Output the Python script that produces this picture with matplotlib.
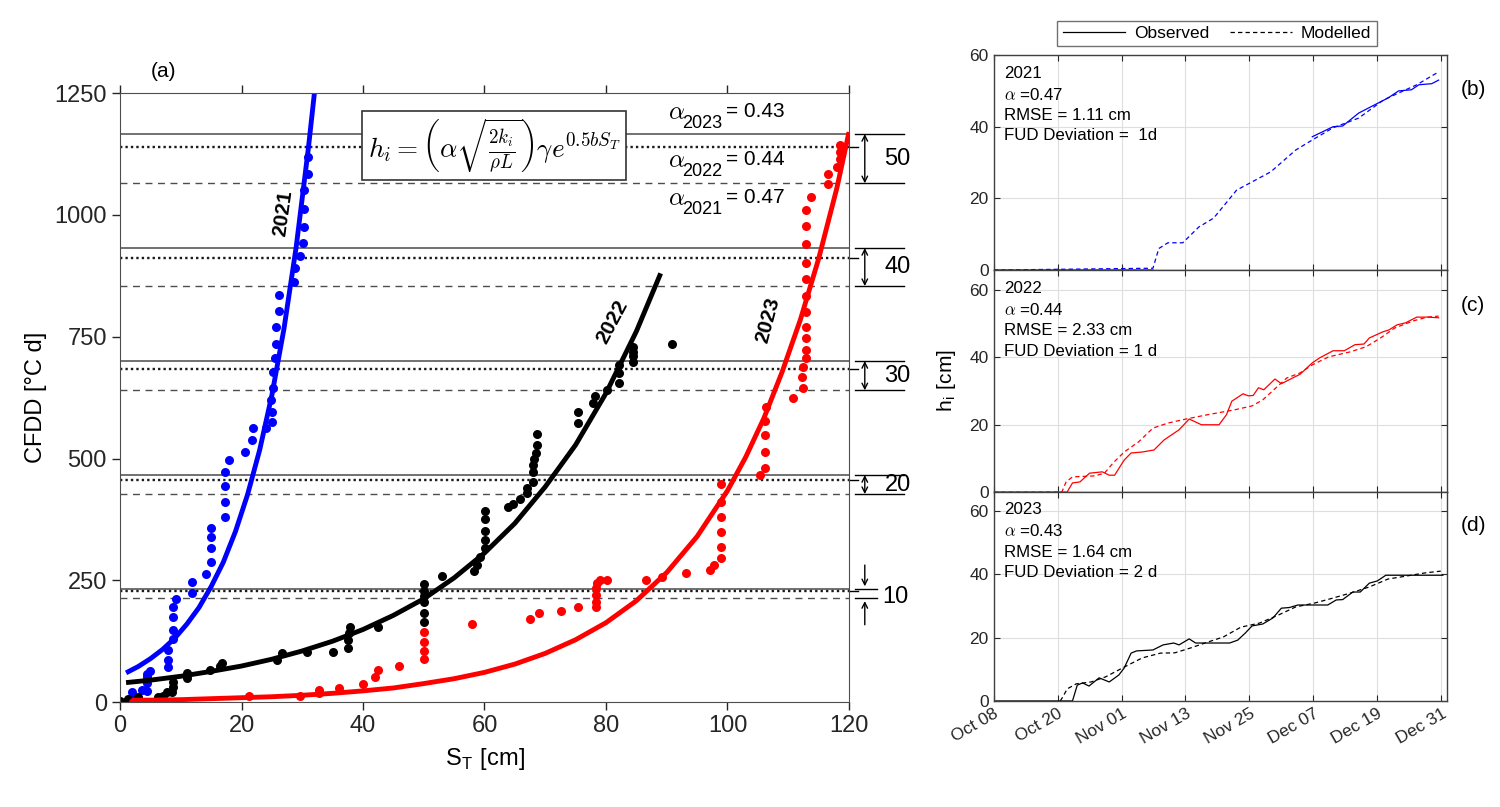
import numpy as np
import matplotlib
matplotlib.use("Agg")
import matplotlib.pyplot as plt

plt.rcParams['font.family'] = ['Liberation Sans', 'DejaVu Sans']
plt.rcParams['mathtext.fontset'] = 'cm'

# -----------------------
# PANEL (a) DATA
# -----------------------

# measured points, S_T [cm] vs CFDD
x_2021 = [1, 2.0, 2.1, 3.6, 4.4, 4.4, 4.4, 4.4, 5.0, 7.9, 7.9, 7.9, 8.8, 8.8, 8.8, 8.8, 9.2, 11.9,
          11.9, 14.2, 14.9, 14.9, 14.9, 14.9, 17.3, 17.3, 17.3, 17.3, 18.0, 20.6, 21.7, 21.9, 24.0,
          25.0, 25.0, 24.9, 25.2, 25.2, 25.5, 25.7, 25.7, 26.2, 26.2, 28.7, 28.8, 29.7, 30.2, 30.3,
          30.3, 30.3, 31.0, 31.0]
y_2021 = [0, 21, 4, 25, 23, 39, 51, 57, 64, 72, 86, 107, 129, 148, 175, 195, 211, 224,
          247, 263, 287, 316, 338, 357, 380, 411, 443, 472, 497, 513, 538, 562, 562,
          575, 596, 620, 644, 677, 706, 735, 770, 803, 835, 862, 891, 915, 942, 975,
          1012, 1051, 1084, 1119]

x_2022 = [0, 1.3, 3.0, 6.3, 7.1, 7.7, 8.5, 8.7, 8.7, 11.0, 11.0, 14.8, 16.8, 16.5, 25.8, 26.6,
          30.8, 35.1, 37.6, 37.6, 37.7, 37.9, 42.5, 50.1, 50.1, 50.1, 50.1, 50.1, 50.1, 53.0,
          58.3, 58.8, 59.3, 60.1, 60.1, 60.1, 60.1, 60.1, 63.8, 64.7, 65.9, 67.0, 67.0, 68.0,
          68.0, 68.0, 68.2, 68.4, 68.7, 68.7, 75.4, 75.4, 77.8, 78.2, 80.2, 82.2, 82.2, 82.2,
          84.5, 84.5, 84.5, 84.5, 90.8]
y_2022 = [2, 6, 10, 10, 12, 21, 21, 31, 41, 49, 60, 66, 80, 74, 86, 100,
          103, 103, 111, 127, 141, 154, 154, 242, 228, 218, 205, 183, 164, 259,
          269, 281, 298, 316, 333, 351, 375, 392, 400, 406, 417, 429, 439, 452,
          472, 486, 499, 511, 527, 550, 573, 596, 613, 628, 640, 655, 676, 692,
          698, 710, 719, 729, 735]

x_2023 = [2.2, 21.3, 29.7, 32.7, 32.8, 36.0, 40.0, 42.0, 42.4, 46.0, 50.0, 50.0, 50.0, 50.0,
          58.0, 67.5, 69.0, 72.6, 75.4, 78.4, 78.4, 78.4, 78.4, 78.6, 79.0, 80.2, 86.6, 89.3,
          93.2, 97.2, 97.7, 99.0, 99.0, 99.0, 99.0, 99.0, 99.0, 105.3, 106.1, 106.1, 106.1,
          106.1, 106.4, 110.7, 112.4, 112.2, 112.4, 113.0, 113.0, 113.0, 113.0, 113.0, 112.9,
          112.9, 112.9, 112.9, 112.9, 112.9, 113.7, 116.5, 116.5, 118.0, 118.5, 118.6, 118.6]
y_2023 = [0, 12, 12, 18, 24, 28, 37, 52, 66, 74, 144, 123, 105, 88,
          160, 170, 182, 188, 195, 195, 205, 220, 234, 244, 250, 250, 250, 257,
          265, 271, 281, 296, 318, 349, 380, 411, 448, 466, 481, 513, 548,
          577, 605, 624, 645, 667, 688, 706, 723, 747, 770, 800, 833,
          868, 901, 940, 977, 1010, 1037, 1063, 1084, 1098, 1115, 1129, 1143]

# fitted curves
fit21_x = [1, 3, 5, 7, 9, 11, 13, 15, 17, 19, 21, 23, 25, 27, 29, 31, 32]
fit21_y = [60, 73, 89, 108, 131, 160, 194, 237, 287, 350, 426, 518, 630, 767, 934, 1136, 1250]
fit22_x = [1, 5, 10, 15, 20, 25, 30, 35, 40, 45, 50, 55, 60, 65, 70, 75, 80, 85, 89]
fit22_y = [40, 45, 53, 63, 74, 88, 105, 125, 149, 178, 212, 255, 306, 367, 442, 528, 634, 761, 880]
fit23_x = [2, 5, 10, 15, 20, 25, 30, 35, 40, 45, 50, 55, 60, 65, 70, 75, 80, 85, 90, 95,
           100, 103, 106, 109, 112, 115, 118, 120]
fit23_y = [4, 4, 5, 7, 9, 11, 14, 18, 23, 29, 38, 48, 61, 78, 100, 128, 163, 208, 266, 340,
           434, 503, 583, 678, 785, 910, 1055, 1170]

# CFDD needed for given ice thickness
thick_cm = [10, 20, 30, 40, 50]
cfdd_solid = [232, 466, 700, 932, 1166]
cfdd_dotted = [228, 456, 683, 911, 1139]
cfdd_dashed = [213, 427, 640, 854, 1065]

alpha_years = ['2023', '2022', '2021']
alpha_vals = ['0.43', '0.44', '0.47']

# -----------------------
# PANELS (b)-(d) DATA  (days since Oct 08)
# -----------------------
date_ticks = [0, 12, 24, 36, 48, 60, 72, 84]
date_labels = ['Oct 08', 'Oct 20', 'Nov 01', 'Nov 13', 'Nov 25', 'Dec 07', 'Dec 19', 'Dec 31']

b_obs_day = [0, 29.9, 29.9, 59.8, 63.7, 65.5, 68.5, 71.1, 74.0, 76.0, 78.4, 79.8, 82.2, 83.5]
b_obs_h = [0, 0, np.nan, 37.2, 40.0, 40.2, 43.8, 45.8, 48.0, 50.0, 50.3, 51.7, 52.0, 53.0]
b_mod_day = [0, 29.9, 31, 32.7, 35.5, 38.5, 41.3, 45.6, 48.5, 52, 56.7, 59.8, 63.7, 68.5, 73.2, 79.4, 83.5]
b_mod_h = [0, 0.5, 6, 7.6, 7.6, 12, 14.5, 22.3, 24.6, 27.4, 33.5, 36.3, 39.7, 42.4, 47.5, 51.7, 55.3]

c_obs_day = [0, 13.8, 14.8, 16.2, 18.0, 20.4, 21.7, 22.7, 24.5, 25.8, 27.9, 30.1, 32.0, 34.8, 36.7,
             39.0, 42.3, 43.7, 44.7, 46.8, 47.8, 48.7, 49.7, 50.7, 52.8, 54.0, 56.1, 57.5, 59.8,
             61.2, 63.7, 65.8, 67.8, 69.5, 70.5, 73.0, 74.2, 75.7, 77.3, 79.4, 81.5, 83.5]
c_obs_h = [0, 0, 2.7, 3.0, 5.6, 6.0, 5.0, 5.0, 9.5, 11.6, 11.9, 12.5, 15.5, 18.5, 21.7,
           20.0, 20.0, 23.0, 27.0, 29.2, 28.6, 28.7, 31.0, 30.4, 33.6, 32.2, 33.9, 35.0, 38.4,
           39.9, 42.0, 42.0, 43.8, 44.0, 45.8, 47.6, 48.2, 49.7, 50.3, 52.0, 52.0, 51.8]
c_mod_day = [0, 12.8, 13.6, 14.8, 19.0, 20.8, 22.4, 24.5, 27.2, 29.9, 32.7, 36.1, 40.2, 45.1,
             48.5, 50.5, 53.0, 55.0, 57.5, 59.8, 62.9, 67.0, 69.9, 72.6, 75.3, 78.8, 81.4, 83.5]
c_mod_h = [0, 0, 3.0, 4.5, 4.8, 5.6, 8.6, 11.9, 14.9, 19.0, 20.5, 21.7, 23.0, 24.4,
           25.6, 27.4, 31.0, 33.9, 35.4, 37.8, 40.2, 41.7, 43.2, 45.8, 48.8, 50.9, 52.0, 52.3]

d_obs_day = [0, 14.8, 15.7, 16.7, 17.9, 19.8, 21.7, 23.5, 24.5, 25.8, 26.8, 29.9, 31.8, 33.8, 34.8,
             36.7, 37.9, 44.3, 45.8, 47.2, 48.5, 50.5, 52.4, 54.0, 55.5, 57.1, 62.7, 64.3, 65.5,
             67.4, 68.8, 70.5, 72.0, 73.6, 84.3]
d_obs_h = [0, 0, 5.0, 5.7, 4.7, 7.3, 6.0, 8.2, 10.4, 15.1, 15.8, 16.1, 17.7, 18.3, 17.7,
           19.6, 18.3, 18.3, 19.2, 21.4, 23.7, 24.3, 26.2, 29.3, 29.5, 30.3, 30.3, 31.9, 32.0,
           34.4, 34.4, 37.2, 37.9, 39.7, 39.7]
d_mod_day = [12.5, 13.0, 13.8, 15.5, 18.3, 21.0, 24.5, 27.9, 31.3, 34.0, 36.9, 40.2, 43.1, 46.4,
             49.9, 53.4, 56.7, 60.2, 63.7, 67.0, 70.5, 74.0, 77.3, 80.8, 83.9]
d_mod_h = [0, 1.3, 3.8, 5.4, 6.0, 7.6, 10.7, 13.6, 15.1, 15.2, 16.7, 18.6, 20.2, 23.3,
           24.6, 27.1, 29.7, 30.9, 32.5, 34.1, 36.0, 38.5, 39.4, 40.4, 41.0]

# -----------------------
# FIGURE
# -----------------------
fig = plt.figure(figsize=(15, 8.07), dpi=100)

ax = fig.add_axes([0.08, 0.130, 0.486, 0.7546])

# reference lines
for s, d, q in zip(cfdd_solid, cfdd_dotted, cfdd_dashed):
    ax.axhline(s, color='0.35', lw=1.2)
    ax.axhline(d, color='0.1', lw=1.7, ls=(0, (1, 1.3)))
    ax.axhline(q, color='0.3', lw=1.0, ls=(0, (5, 4)))

ax.plot(x_2021, y_2021, 'o', color='#0000ff', ms=6.5, mec='none')
ax.plot(x_2022, y_2022, 'o', color='k', ms=6.5, mec='none')
ax.plot(x_2023, y_2023, 'o', color='#ff0000', ms=6.5, mec='none')
ax.plot(fit21_x, fit21_y, color='#0000ff', lw=3.5, solid_capstyle='butt')
ax.plot(fit22_x, fit22_y, color='k', lw=3.5, solid_capstyle='butt')
ax.plot(fit23_x, fit23_y, color='#ff0000', lw=3.5, solid_capstyle='butt')

ax.set_xlim(0, 120)
ax.set_ylim(0, 1250)
ax.set_xticks(range(0, 121, 20))
ax.set_yticks(range(0, 1251, 250))
ax.tick_params(direction='out', length=6, width=1, labelsize=17, top=True, colors='0.15')
for sp in ax.spines.values():
    sp.set_color('0.3')
ax.set_xlabel('S$_{\\mathregular{T}}$ [cm]', fontsize=17, labelpad=6)
ax.set_ylabel('CFDD [°C d]', fontsize=17, labelpad=5)
ax.text(0.06, 1.02, '(a)', transform=ax.transAxes, fontsize=15, va='bottom', ha='center')

# year labels on fitted curves
lab_kw = dict(fontsize=15, fontweight='bold', fontstyle='normal', family='Liberation Sans',
              ha='center', va='center')
ax.text(26.8, 1004, '2021', rotation=82, **lab_kw)
ax.text(81.0, 780, '2022', rotation=62, **lab_kw)
ax.text(106.7, 784, '2023', rotation=75, **lab_kw)

# formula box
ax.text(61.6, 1143,
        r'$h_i = \left(\alpha\sqrt{\frac{2k_i}{\rho L}}\right)\gamma e^{0.5bS_T}$',
        fontsize=19.5, ha='center', va='center',
        bbox=dict(boxstyle='square,pad=0.2', fc='white', ec='0.2', lw=1.2))

# alpha labels
alpha_y = [1211, 1112, 1034]
for yr, val, ya in zip(alpha_years, alpha_vals, alpha_y):
    ax.text(90.2, ya, r'$\alpha$', fontsize=18, ha='left', va='center')
    ax.text(92.6, ya - 23, yr, fontsize=13, ha='left', va='center')
    ax.text(99.8, ya + 2, '= ' + val, fontsize=15, ha='left', va='center')

# dimension marks on the right
for i, h in enumerate(thick_cm):
    top, bot = cfdd_solid[i], cfdd_dashed[i]
    x_end = 124.6 if h == 10 else 129.0
    ax.plot([121, x_end], [top, top], color='k', lw=1, clip_on=False)
    ax.plot([121, x_end], [bot, bot], color='k', lw=1, clip_on=False)
    ax.plot([120, 121.5], [cfdd_dotted[i], cfdd_dotted[i]], color='k', lw=1, clip_on=False)
    if h == 10:
        ax.annotate('', xy=(122.6, top), xytext=(122.6, top + 55),
                    arrowprops=dict(arrowstyle='->', lw=1, color='k'), annotation_clip=False)
        ax.annotate('', xy=(122.6, bot), xytext=(122.6, bot - 60),
                    arrowprops=dict(arrowstyle='->', lw=1, color='k'), annotation_clip=False)
        ax.text(127.6, (top + bot) / 2 - 6, str(h), fontsize=17, ha='center', va='center')
    else:
        ax.annotate('', xy=(122.6, top), xytext=(122.6, bot),
                    arrowprops=dict(arrowstyle='<->', lw=1, color='k', shrinkA=0, shrinkB=0),
                    annotation_clip=False)
        ax.text(128.0, (top + bot) / 2, str(h), fontsize=17, ha='center', va='center')

# -----------------------
# RIGHT PANELS
# -----------------------
rects = [[0.6624, 0.6654, 0.3020, 0.2664],
         [0.6624, 0.3903, 0.3020, 0.2751],
         [0.6624, 0.1314, 0.3020, 0.2590]]
panels = [
    (b_obs_day, b_obs_h, b_mod_day, b_mod_h, '#0000ff', '2021', '0.47', '1.11', ' 1d', '(b)', 60),
    (c_obs_day, c_obs_h, c_mod_day, c_mod_h, '#ff0000', '2022', '0.44', '2.33', '1 d', '(c)', 66),
    (d_obs_day, d_obs_h, d_mod_day, d_mod_h, 'k', '2023', '0.43', '1.64', '2 d', '(d)', 66),
]
axes_r = []
for rect, p in zip(rects, panels):
    od, oh, md, mh, col, yr, al, rm, fud, lab, ytop = p
    a = fig.add_axes(rect)
    axes_r.append(a)
    a.plot(od, oh, color=col, lw=0.9)
    a.plot(md, mh, color=col, lw=0.9, ls=(0, (3.5, 2.5)))
    a.set_xlim(0, 85)
    a.set_ylim(0, ytop)
    a.set_xticks(date_ticks)
    a.set_yticks([0, 20, 40, 60])
    a.grid(True, color='0.87', lw=0.8)
    a.set_axisbelow(True)
    a.tick_params(direction='in', length=4, top=True, right=True, labelsize=12.5, colors='0.15')
    for sp in a.spines.values():
        sp.set_color('0.25')
        sp.set_linewidth(1.0)
    a.text(0.024, 0.95, yr + '\n' + r'$\alpha$ =' + al + '\nRMSE = ' + rm + ' cm\nFUD Deviation = ' + fud,
           transform=a.transAxes, fontsize=12.2, va='top', ha='left', linespacing=1.45)
    a.text(1.032, 0.84, lab, transform=a.transAxes, fontsize=15, ha='left', va='center')
    if lab == '(d)':
        a.set_xticklabels(date_labels, rotation=30, ha='right', rotation_mode='anchor')
    else:
        a.set_xticklabels([])

axes_r[1].set_ylabel('h$_{\\mathregular{i}}$ [cm]', fontsize=15, labelpad=8)

# legend above panel (b)
l1, = axes_r[0].plot([], [], color='k', lw=0.9, label='Observed')
l2, = axes_r[0].plot([], [], color='k', lw=0.9, ls=(0, (3.5, 2.5)), label='Modelled')
axes_r[0].legend(handles=[l1, l2], loc='lower center', bbox_to_anchor=(0.493, 1.0), ncol=2,
                 fontsize=12.5, frameon=True, fancybox=False, edgecolor='0.3',
                 handlelength=3.6, handletextpad=0.5, borderpad=0.3, columnspacing=1.2)

fig.savefig('out.png', dpi=100)
